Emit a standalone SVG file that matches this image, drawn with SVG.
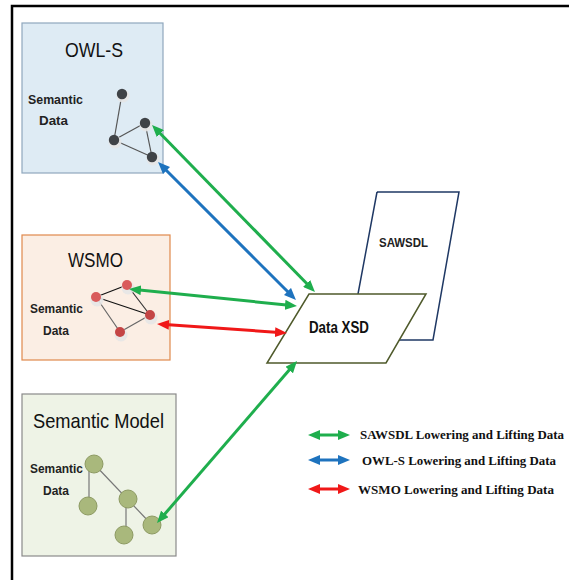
<svg xmlns="http://www.w3.org/2000/svg" width="569" height="580" viewBox="0 0 569 580">
<defs>
<style>
.box{stroke-width:1.2}
.title{font-family:"Liberation Sans",Arial,sans-serif}
.sd{font-family:"Liberation Sans",Arial,sans-serif;font-weight:bold;font-size:13px;fill:#222}
.edge{stroke-width:1.2;fill:none}
.conn{stroke-width:3;fill:none}
.leg{font-family:"Liberation Serif","Times New Roman",serif;font-weight:bold;font-size:13px;fill:#111}
.halo{fill:#e6e6e6;opacity:0.9}
</style>
<marker id="hg" viewBox="0 0 12 10" refX="4" refY="5" markerWidth="12" markerHeight="10" markerUnits="userSpaceOnUse" orient="auto-start-reverse"><path d="M0,0 L12,5 L0,10 z" fill="#1fae4d"/></marker>
<marker id="hb" viewBox="0 0 12 10" refX="4" refY="5" markerWidth="12" markerHeight="10" markerUnits="userSpaceOnUse" orient="auto-start-reverse"><path d="M0,0 L12,5 L0,10 z" fill="#1e73be"/></marker>
<marker id="hr" viewBox="0 0 12 10" refX="4" refY="5" markerWidth="12" markerHeight="10" markerUnits="userSpaceOnUse" orient="auto-start-reverse"><path d="M0,0 L12,5 L0,10 z" fill="#f01818"/></marker>
</defs>
<rect width="569" height="580" fill="#fff"/>
<path d="M12,580 L12,6 L569,6" fill="none" stroke="#000" stroke-width="2.5"/>

<g id="owls">
<rect class="box" x="22" y="23" width="141" height="150" fill="#deebf4" stroke="#8fa7bd"/>
<text class="title" x="65" y="57" font-size="21" fill="#111" textLength="58" lengthAdjust="spacingAndGlyphs">OWL-S</text>
<text class="sd" x="28" y="104" textLength="55" lengthAdjust="spacingAndGlyphs">Semantic</text>
<text class="sd" x="39" y="125" textLength="29" lengthAdjust="spacingAndGlyphs">Data</text>
<g stroke="#555" class="edge">
<line x1="122" y1="94" x2="114" y2="140"/>
<line x1="114" y1="140" x2="145" y2="123"/>
<line x1="114" y1="140" x2="152" y2="157"/>
<line x1="145" y1="123" x2="152" y2="157"/>
</g>
<g>
<circle class="halo" cx="123" cy="96" r="6.5"/><circle cx="122" cy="94" r="5.2" fill="#3f4347"/>
<circle class="halo" cx="146" cy="125" r="6.5"/><circle cx="145" cy="123" r="5.2" fill="#3f4347"/>
<circle class="halo" cx="115" cy="142" r="6.5"/><circle cx="114" cy="140" r="5.2" fill="#3f4347"/>
<circle class="halo" cx="153" cy="159" r="6.5"/><circle cx="152" cy="157" r="5.2" fill="#3f4347"/>
</g>
</g>

<g id="wsmo">
<rect class="box" x="22" y="235" width="148" height="125" fill="#fbeee4" stroke="#e0894c"/>
<text class="title" x="68" y="267" font-size="21" fill="#111" textLength="55" lengthAdjust="spacingAndGlyphs">WSMO</text>
<text class="sd" x="30" y="313" textLength="53" lengthAdjust="spacingAndGlyphs">Semantic</text>
<text class="sd" x="43" y="335" textLength="26" lengthAdjust="spacingAndGlyphs">Data</text>
<g class="edge">
<line x1="96" y1="297" x2="127" y2="285" stroke="#111"/>
<line x1="96" y1="297" x2="150" y2="315" stroke="#111"/>
<line x1="127" y1="285" x2="150" y2="315" stroke="#333"/>
<line x1="96" y1="297" x2="120" y2="332" stroke="#666"/>
<line x1="120" y1="332" x2="150" y2="315" stroke="#666"/>
</g>
<g>
<circle class="halo" cx="128" cy="288" r="6.5"/><circle cx="127" cy="285" r="5" fill="#d95b5b"/>
<circle class="halo" cx="97" cy="300" r="6.5"/><circle cx="96" cy="297" r="5" fill="#d95b5b"/>
<circle class="halo" cx="151" cy="318" r="6.5"/><circle cx="150" cy="315" r="5" fill="#c44545"/>
<circle class="halo" cx="121" cy="335" r="6.5"/><circle cx="120" cy="332" r="5" fill="#c44545"/>
</g>
</g>

<g id="semantic-model">
<rect class="box" x="22" y="394" width="154" height="162" fill="#eef3e6" stroke="#8a8a8a"/>
<text class="title" x="33" y="428" font-size="21" fill="#111" textLength="131" lengthAdjust="spacingAndGlyphs">Semantic Model</text>
<text class="sd" x="30" y="473" textLength="53" lengthAdjust="spacingAndGlyphs">Semantic</text>
<text class="sd" x="43" y="495" textLength="26" lengthAdjust="spacingAndGlyphs">Data</text>
<g class="edge" stroke="#777">
<line x1="89" y1="464" x2="89" y2="499"/>
<line x1="94" y1="464" x2="152" y2="525"/>
<line x1="126" y1="499" x2="126" y2="533"/>
</g>
<g fill="#a9b87c" stroke="#8d9a63" stroke-width="1">
<circle cx="94" cy="464" r="9"/>
<circle cx="88" cy="506" r="9"/>
<circle cx="128" cy="499" r="9"/>
<circle cx="124" cy="535" r="9"/>
<circle cx="152" cy="525" r="9"/>
</g>
</g>

<g id="sawsdl">
<path d="M377,192 L459,192 L433,340 L385,340 M377,192 L358,294" fill="#fff" stroke="#1f3864" stroke-width="1.5"/>
<text x="379" y="247" font-family="Liberation Sans,Arial,sans-serif" font-weight="bold" font-size="13" fill="#222" textLength="49" lengthAdjust="spacingAndGlyphs">SAWSDL</text>
</g>

<g id="data-xsd">
<polygon points="309,294 426,294 386,363 267,363" fill="#fff" stroke="#4f5a2b" stroke-width="1.5"/>
<text x="309" y="333" font-family="Liberation Sans,Arial,sans-serif" font-weight="bold" font-size="17" fill="#111" textLength="60" lengthAdjust="spacingAndGlyphs">Data XSD</text>
</g>

<g id="connectors">
<line class="conn" stroke="#1fae4d" x1="157.6" y1="130.7" x2="309.4" y2="286.3" marker-start="url(#hg)" marker-end="url(#hg)"/>
<line class="conn" stroke="#1e73be" x1="163.7" y1="167.7" x2="290.3" y2="294.3" marker-start="url(#hb)" marker-end="url(#hb)"/>
<line class="conn" stroke="#1fae4d" x1="137" y1="289.8" x2="289" y2="305.2" marker-start="url(#hg)" marker-end="url(#hg)"/>
<line class="conn" stroke="#f01818" x1="165" y1="324.6" x2="279" y2="332.4" marker-start="url(#hr)" marker-end="url(#hr)"/>
<line class="conn" stroke="#1fae4d" x1="162.2" y1="517" x2="291.8" y2="367" marker-start="url(#hg)" marker-end="url(#hg)"/>
</g>

<g id="legend">
<line class="conn" stroke="#1fae4d" x1="316" y1="435" x2="342" y2="435" marker-start="url(#hg)" marker-end="url(#hg)"/>
<line class="conn" stroke="#1e73be" x1="316" y1="460" x2="342" y2="460" marker-start="url(#hb)" marker-end="url(#hb)"/>
<line class="conn" stroke="#f01818" x1="316" y1="489" x2="342" y2="489" marker-start="url(#hr)" marker-end="url(#hr)"/>
<text class="leg" x="360" y="439" textLength="204" lengthAdjust="spacingAndGlyphs">SAWSDL Lowering and Lifting Data</text>
<text class="leg" x="362" y="465" textLength="194" lengthAdjust="spacingAndGlyphs">OWL-S Lowering and Lifting Data</text>
<text class="leg" x="358" y="494" textLength="196" lengthAdjust="spacingAndGlyphs">WSMO Lowering and Lifting Data</text>
</g>
</svg>
